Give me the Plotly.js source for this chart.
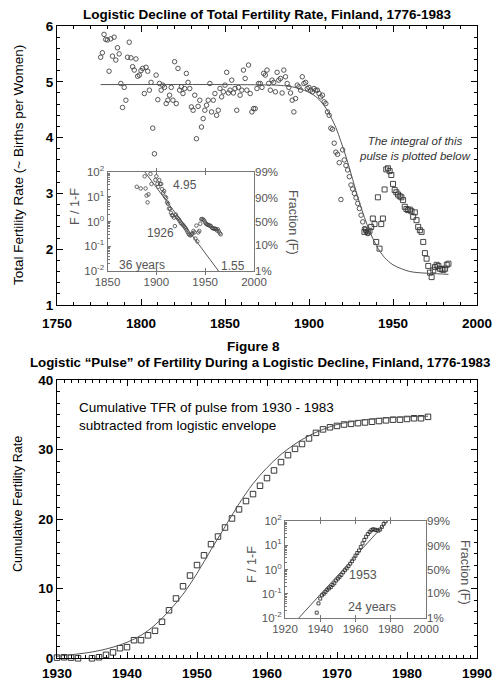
<!DOCTYPE html>
<html><head><meta charset="utf-8">
<script src="https://cdn.plot.ly/plotly-3.0.1.min.js"></script>
<style>html,body{margin:0;padding:0;background:#fff;}#chart{width:493px;height:684px;}</style>
</head><body><div id="chart"></div>
<script>
// ---------- DATA ----------
// Top panel: annual Total Fertility Rate, Finland (circles 1776-1935)
const tfrFirstYear = 1776;
const tfrCircles = [
 5.44,5.52,5.85,5.76,5.75,5.19,5.77,5.46,5.80,5.39,
 5.61,5.50,4.97,4.54,4.90,4.67,5.44,5.71,5.43,5.27,
 5.21,5.41,5.10,5.12,5.20,5.24,4.79,5.26,5.19,4.85,
 4.99,4.17,3.71,5.12,4.68,4.97,4.85,4.94,4.90,4.61,
 4.67,4.76,4.90,4.67,5.36,4.61,5.24,4.85,4.91,4.79,
 4.88,5.15,4.99,4.88,4.55,4.49,4.76,3.98,4.56,4.67,
 4.19,4.34,4.49,4.58,4.67,4.97,4.46,4.67,4.79,4.40,
 4.49,4.88,4.73,4.82,4.94,5.17,4.80,4.85,5.03,4.80,
 4.88,4.49,4.90,4.76,4.85,5.21,5.06,4.85,5.30,4.79,
 4.46,4.52,4.52,4.88,4.97,4.97,4.90,5.15,5.12,5.21,
 4.97,4.85,5.03,4.99,4.82,5.17,5.03,5.06,4.80,5.21,
 5.09,4.97,4.90,4.80,4.67,4.46,4.70,4.94,4.91,4.85,
 5.09,4.97,4.99,4.88,4.90,4.85,4.82,4.88,4.85,4.85,
 4.79,4.73,4.76,4.64,4.61,4.46,4.40,4.17,4.15,3.90,
 3.74,3.70,3.55,2.89,3.78,3.60,3.50,3.42,3.30,3.15,
 3.08,3.00,2.92,2.82,2.73,2.61,2.49,2.37,2.31,2.28
];
// Top panel: "pulse" years (squares 1933-1983)
const pulseFirstYear = 1933;
const tfrSquares = [
 2.31,2.35,2.30,2.33,2.40,2.55,2.45,2.13,2.93,2.01,
 2.45,2.55,3.07,3.43,3.45,3.40,3.33,3.17,3.06,3.02,
 2.98,2.95,2.93,2.88,2.76,2.72,2.70,2.71,2.68,2.58,
 2.66,2.52,2.40,2.34,2.31,2.13,1.93,1.83,1.70,1.58,
 1.50,1.62,1.68,1.72,1.70,1.65,1.64,1.63,1.65,1.72,1.74
];
// Top panel: logistic envelope curve
const envelopeYears = [1776,1850,1880,1885,1890,1895,1900,1905,1910,1913,1916,1919,1922,1924,1926,1928,1930,1933,1936,1940,1945,1950,1955,1960,1965,1970,1976,1983];
const envelopeTFR   = [4.95,4.95,4.94,4.93,4.91,4.87,4.81,4.71,4.53,4.37,4.18,3.93,3.66,3.46,3.25,3.04,2.84,2.57,2.33,2.07,1.85,1.72,1.65,1.60,1.58,1.57,1.56,1.55];
const envelopeUpper = 4.95, envelopeLower = 1.55;
const declineInsetFrom = 1880, declineInsetTo = 1966;
// Top inset: Fisher-Pry fit line
const declineLineYears = [1888.3, 1963.7];
const declineLineRatio = [100, 0.01];

// Bottom panel: cumulative TFR of the pulse (squares 1930-1983)
const cumFirstYear = 1930;
const cumPulse = [
 0.10,0.15,0.10,0.00,-0.05,0.00,0.15,0.50,0.85,1.45,
 1.60,2.60,2.60,3.30,3.95,5.25,6.90,8.60,10.35,11.90,
 13.40,14.80,16.40,17.50,18.80,20.10,21.40,22.60,23.60,24.80,
 25.90,27.00,28.20,29.20,30.10,30.80,31.60,32.40,32.90,33.20,
 33.40,33.60,33.70,33.80,33.90,34.00,34.10,34.20,34.30,34.30,
 34.40,34.50,34.50,34.70
];
// Bottom panel: logistic fit
const cumFitYears  = [1930,1932,1934,1936,1938,1940,1942,1944,1946,1948,1950,1952,1954,1956,1958,1960,1962,1964,1966,1968,1970,1972,1975,1978,1981,1983];
const cumFitValues = [0.3,0.5,0.75,1.1,1.6,2.3,3.3,4.8,6.8,9.2,12.2,15.6,18.9,22.2,25.1,27.4,29.3,30.8,32.0,32.9,33.6,34.0,34.4,34.6,34.75,34.8];
// Bottom inset: F/(1-F) of the pulse, 1938-1977
const pulseInsetFirstYear = 1938;
const pulseInsetRatio = [
 0.0166,0.040,0.063,0.087,0.10,0.12,0.145,0.166,0.19,0.23,
 0.27,0.35,0.42,0.50,0.60,0.76,0.93,1.12,1.38,1.74,
 2.19,2.82,3.72,4.79,6.03,8.51,12.0,16.6,22.4,28.8,
 35.5,41.7,45.7,43.7,41.7,39.8,44.7,57.5,75.9,95.5
];
const pulseLineYears = [1927.8, 1978.2];
const pulseLineRatio = [0.01, 100];

// Tick labels
const logTickVals = [100,10,1,0.1,0.01];
const logTickText = ['10<sup>2</sup>','10<sup>1</sup>','10<sup>0</sup>','10<sup>-1</sup>','10<sup>-2</sup>'];
const fracTickVals = [99,9,1,0.1111,0.0101];
const fracTickText = ['99%','90%','50%','10%','1%'];

// ---------- BUILD ----------
const yearsFrom = (first, arr) => arr.map((_, i) => first + i);
const circleYears = yearsFrom(tfrFirstYear, tfrCircles);
const squareYears = yearsFrom(pulseFirstYear, tfrSquares);
const cumYears = yearsFrom(cumFirstYear, cumPulse);
const pulseInsetYears = yearsFrom(pulseInsetFirstYear, pulseInsetRatio);

// Fisher-Pry transform of the same TFR data for the top inset
function fp(years, vals, from, to) {
  const xs = [], ys = [];
  years.forEach((yr, i) => {
    if (yr < from || yr > to) return;
    const F = (vals[i] - envelopeLower) / (envelopeUpper - envelopeLower);
    if (F > 0 && F < 1) { xs.push(yr); ys.push(F / (1 - F)); }
  });
  return {xs, ys};
}
const insC = fp(circleYears, tfrCircles, declineInsetFrom, 1935);
const insS = fp(squareYears, tfrSquares, 1936, declineInsetTo);

const minorLog = [];
for (let e = -2; e < 2; e++) for (let m = 2; m <= 9; m++) minorLog.push(m * Math.pow(10, e));

const W = 493, H = 684;
const fx = p => p / W, fy = p => 1 - p / H;
const FONT = 'Liberation Sans, Arial, sans-serif';
const GRAY = '#555';

const mainAxis = (extra) => Object.assign({
  showline: true, linecolor: '#000', linewidth: 1, mirror: 'allticks',
  ticks: 'inside', ticklen: 6, tickwidth: 1, tickcolor: '#000',
  showgrid: false, zeroline: false,
  tickfont: {family: FONT, size: 13.5, color: '#000', weight: 'bold'}
}, extra);
const insetAxis = (extra) => Object.assign({
  showline: true, linecolor: '#777', linewidth: 1, mirror: 'allticks',
  ticks: 'inside', ticklen: 3, tickwidth: 1, tickcolor: '#777',
  showgrid: false, zeroline: false,
  tickfont: {family: FONT, size: 11.5, color: GRAY}
}, extra);

const traces = [
  {x: circleYears, y: tfrCircles, xaxis: 'x', yaxis: 'y', mode: 'markers', type: 'scatter',
   marker: {symbol: 'circle-open', size: 4.5, color: '#444', line: {width: 0.9}}, cliponaxis: false, hoverinfo: 'skip'},
  {x: squareYears, y: tfrSquares, xaxis: 'x', yaxis: 'y', mode: 'markers', type: 'scatter',
   marker: {symbol: 'square-open', size: 5, color: '#333', line: {width: 0.9}}, cliponaxis: false, hoverinfo: 'skip'},
  {x: envelopeYears, y: envelopeTFR, xaxis: 'x', yaxis: 'y', mode: 'lines', type: 'scatter',
   line: {color: '#555', width: 1, shape: 'spline'}, hoverinfo: 'skip'},

  {x: insC.xs, y: insC.ys, xaxis: 'x2', yaxis: 'y2', mode: 'markers', type: 'scatter',
   marker: {symbol: 'circle-open', size: 3.5, color: '#444', line: {width: 0.8}}, hoverinfo: 'skip'},
  {x: insS.xs, y: insS.ys, xaxis: 'x2', yaxis: 'y2', mode: 'markers', type: 'scatter',
   marker: {symbol: 'circle-open', size: 3.5, color: '#444', line: {width: 0.8}}, hoverinfo: 'skip'},
  {x: declineLineYears, y: declineLineRatio, xaxis: 'x2', yaxis: 'y3', mode: 'lines', type: 'scatter',
   line: {color: '#555', width: 1}, hoverinfo: 'skip'},

  {x: cumYears, y: cumPulse, xaxis: 'x4', yaxis: 'y4', mode: 'markers', type: 'scatter',
   marker: {symbol: 'square-open', size: 5.5, color: '#222', line: {width: 0.9}}, cliponaxis: false, hoverinfo: 'skip'},
  {x: cumFitYears, y: cumFitValues, xaxis: 'x4', yaxis: 'y4', mode: 'lines', type: 'scatter',
   line: {color: '#555', width: 1, shape: 'spline'}, hoverinfo: 'skip'},

  {x: pulseInsetYears, y: pulseInsetRatio, xaxis: 'x5', yaxis: 'y5', mode: 'markers', type: 'scatter',
   marker: {symbol: 'square-open', size: 3, color: '#222', line: {width: 0.8}}, hoverinfo: 'skip'},
  {x: pulseLineYears, y: pulseLineRatio, xaxis: 'x5', yaxis: 'y6', mode: 'lines', type: 'scatter',
   line: {color: '#555', width: 1}, hoverinfo: 'skip'}
];

const ann = (x, y, text, o) => Object.assign({
  xref: 'paper', yref: 'paper', x: fx(x), y: fy(y), text, showarrow: false,
  xanchor: 'center', yanchor: 'middle', font: {family: FONT, size: 12, color: '#000'}
}, o || {});

const layout = {
  width: W, height: H, margin: {l: 0, r: 0, t: 0, b: 0},
  paper_bgcolor: '#fff', plot_bgcolor: 'rgba(0,0,0,0)', showlegend: false,
  font: {family: FONT, color: '#000'},

  xaxis: mainAxis({domain: [fx(57), fx(477)], range: [1750, 2000], anchor: 'y', tick0: 1750, dtick: 50,
    ticklabelstandoff: 6,
    minor: {dtick: 10, ticks: 'inside', ticklen: 3, tickcolor: '#000'}}),
  yaxis: mainAxis({domain: [fy(305), fy(26)], range: [1, 6], anchor: 'x', dtick: 1,
    minor: {dtick: 0.2, ticks: 'inside', ticklen: 3, tickcolor: '#000'}}),

  xaxis2: insetAxis({domain: [fx(107.5), fx(254)], range: [1850, 2000], anchor: 'y2', tick0: 1850, dtick: 50}),
  yaxis2: insetAxis({domain: [fy(271), fy(172)], type: 'log', range: [-2, 2], anchor: 'x2',
    tickvals: logTickVals, ticktext: logTickText, mirror: true,
    minor: {tickvals: minorLog, ticks: 'inside', ticklen: 2, tickcolor: '#777'}}),
  yaxis3: {overlaying: 'y2', side: 'right', anchor: 'x2', type: 'log', range: [-2, 2],
    tickvals: fracTickVals, ticktext: fracTickText, ticks: '', showline: false, showgrid: false, zeroline: false,
    tickfont: {family: FONT, size: 11.5, color: GRAY}},

  xaxis4: mainAxis({domain: [fx(57), fx(477)], range: [1930, 1990], anchor: 'y4', tick0: 1930, dtick: 10,
    ticklabelstandoff: 2,
    minor: {dtick: 1, ticks: 'inside', ticklen: 3, tickcolor: '#000'}}),
  yaxis4: mainAxis({domain: [fy(658.3), fy(380)], range: [0, 40], anchor: 'x4', dtick: 10,
    minor: {dtick: 10 / 6, ticks: 'inside', ticklen: 3, tickcolor: '#000'}}),

  xaxis5: insetAxis({domain: [fx(285), fx(426)], range: [1920, 2000], anchor: 'y5', tick0: 1920, dtick: 20}),
  yaxis5: insetAxis({domain: [fy(618), fy(521)], type: 'log', range: [-2, 2], anchor: 'x5',
    tickvals: logTickVals, ticktext: logTickText, mirror: true,
    minor: {tickvals: minorLog, ticks: 'inside', ticklen: 2, tickcolor: '#777'}}),
  yaxis6: {overlaying: 'y5', side: 'right', anchor: 'x5', type: 'log', range: [-2, 2],
    tickvals: fracTickVals, ticktext: fracTickText, ticks: '', showline: false, showgrid: false, zeroline: false,
    tickfont: {family: FONT, size: 11.5, color: GRAY}},

  annotations: [
    ann(267, 15, 'Logistic Decline of Total Fertility Rate, Finland, 1776-1983', {font: {family: FONT, size: 13.5, weight: 'bold'}}),
    ann(19, 165, 'Total Fertility Rate (~ Births per Women)', {textangle: -90, font: {family: FONT, size: 13.5}}),
    ann(415, 149, '<i>The integral of this<br>pulse is plotted below</i>', {font: {family: FONT, size: 11.5, color: '#333'}}),
    ann(185, 185, '4.95', {font: {family: FONT, size: 12, color: GRAY}}),
    ann(160, 233, '1926', {font: {family: FONT, size: 12, color: GRAY}}),
    ann(142, 265, '36 years', {font: {family: FONT, size: 12, color: GRAY}}),
    ann(233, 266, '1.55', {font: {family: FONT, size: 12, color: GRAY}}),
    ann(75, 207, 'F / 1-F', {textangle: -90, font: {family: FONT, size: 12.5, color: GRAY}}),
    ann(293, 222, 'Fraction (F)', {textangle: 90, font: {family: FONT, size: 12.5, color: GRAY}}),

    ann(253, 346, 'Figure 8', {font: {family: FONT, size: 13.5, weight: 'bold'}}),
    ann(28, 362, 'Logistic \u201cPulse\u201d of Fertility During a Logistic Decline, Finland, 1776-1983', {xanchor: 'left', font: {family: FONT, size: 13.3, weight: 'bold'}}),
    ann(77, 416, 'Cumulative TFR of pulse from 1930 - 1983<br>subtracted from logistic envelope', {xanchor: 'left', align: 'left', font: {family: FONT, size: 13.5}}),
    ann(18, 504, 'Cumulative Fertility Rate', {textangle: -90, font: {family: FONT, size: 12.5}}),
    ann(363, 575, '1953', {font: {family: FONT, size: 12.5, color: GRAY}}),
    ann(372, 607, '24 years', {font: {family: FONT, size: 12.5, color: GRAY}}),
    ann(252, 565, 'F / 1-F', {textangle: -90, font: {family: FONT, size: 12.5, color: GRAY}}),
    ann(465, 572, 'Fraction (F)', {textangle: 90, font: {family: FONT, size: 12.5, color: GRAY}})
  ]
};

Plotly.newPlot('chart', traces, layout, {staticPlot: true, displayModeBar: false});
</script>
</body></html>
